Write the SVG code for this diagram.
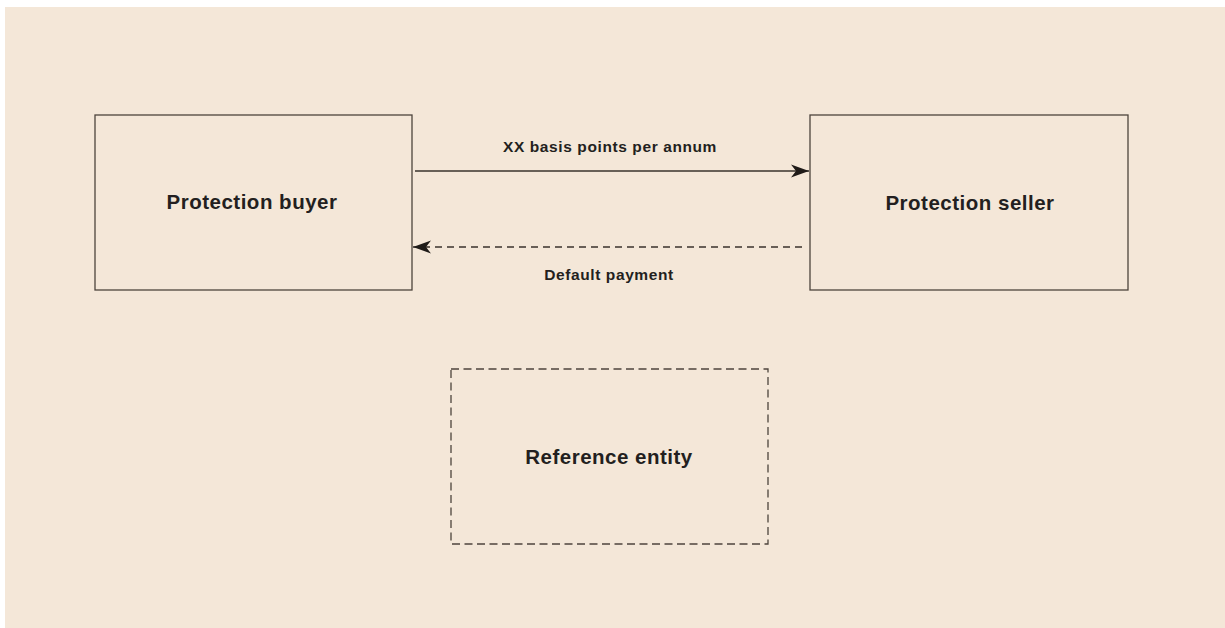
<svg xmlns="http://www.w3.org/2000/svg" width="1225" height="628" viewBox="0 0 1225 628">
  <style>
    .box { fill: none; stroke: #4d443c; stroke-width: 1.3; }
    .dashbox { fill: none; stroke: #4d443c; stroke-width: 1.3; stroke-dasharray: 8 4.5; }
    .conn { fill: none; stroke: #3a332d; stroke-width: 1.3; }
    .dashed { stroke-dasharray: 7 5; }
    .lbl { font-family: "Liberation Sans", Arial, sans-serif; font-weight: bold; fill: #231f20; text-anchor: middle; }
    .node { font-size: 20.5px; letter-spacing: 0.5px; }
    .edge { font-size: 15.5px; letter-spacing: 0.6px; }
  </style>
  <defs>
    <marker id="arrow" viewBox="0 0 18 14" refX="18" refY="7" markerWidth="18" markerHeight="14" markerUnits="userSpaceOnUse" orient="auto">
      <path d="M0,0.5 L18,7 L0,13.5 L5,7 Z" fill="#1f1b18"/>
    </marker>
  </defs>
  <rect x="0" y="0" width="1225" height="628" fill="#ffffff"/>
  <rect x="5" y="7" width="1220" height="621" fill="#f4e7d8"/>

  <g id="protection-buyer">
    <rect class="box" x="95" y="115" width="317" height="175"/>
    <text class="lbl node" x="252" y="209">Protection buyer</text>
  </g>
  <g id="protection-seller">
    <rect class="box" x="810" y="115" width="318" height="175"/>
    <text class="lbl node" x="970" y="210">Protection seller</text>
  </g>
  <g id="reference-entity">
    <rect class="dashbox" x="451" y="369" width="317" height="175"/>
    <text class="lbl node" x="609" y="464">Reference entity</text>
  </g>

  <g id="connectors">
    <line class="conn" x1="415" y1="171" x2="809" y2="171" marker-end="url(#arrow)"/>
    <text class="lbl edge" x="610" y="152">XX basis points per annum</text>
    <line class="conn dashed" x1="802" y1="247" x2="413" y2="247" marker-end="url(#arrow)"/>
    <text class="lbl edge" x="609" y="280">Default payment</text>
  </g>
</svg>
